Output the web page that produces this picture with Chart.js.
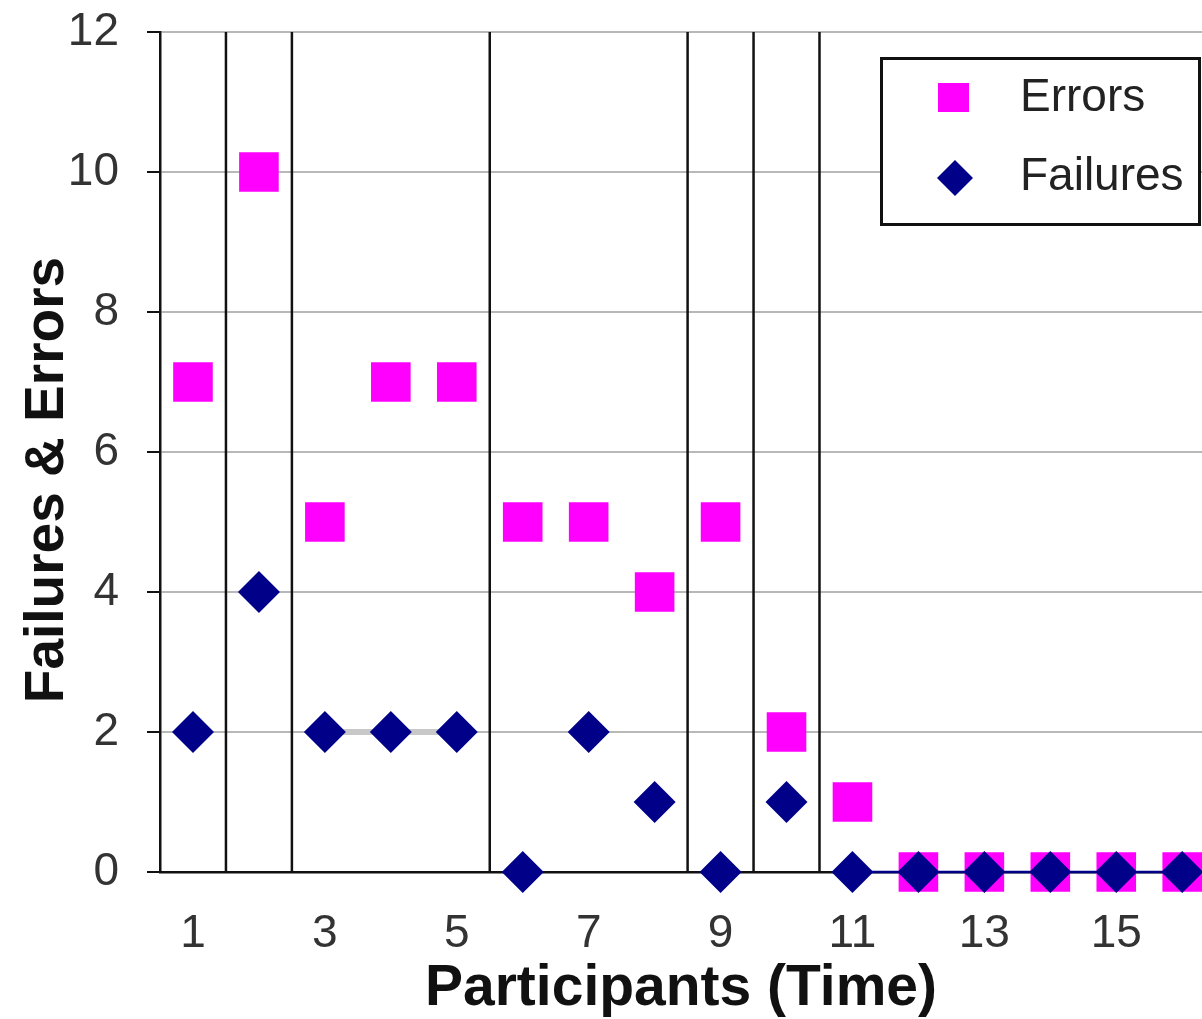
<!DOCTYPE html>
<html>
<head>
<meta charset="utf-8">
<script src="https://cdn.jsdelivr.net/npm/chart.js@4.4.0/dist/chart.umd.min.js"></script>
<style>
  html, body { margin: 0; padding: 0; background: #fff; }
  #wrap { width: 1202px; height: 1019px; }
</style>
</head>
<body>
<div id="wrap"><canvas id="chart" width="1202" height="1019"></canvas></div>
<script>
// data
const participants = [1, 2, 3, 4, 5, 6, 7, 8, 9, 10, 11, 12, 13, 14, 15, 16];
const errors   = [7, 10, 5, 7, 7, 5, 5, 4, 5, 2, 1, 0, 0, 0, 0, 0];
const failures = [2, 4, 2, 2, 2, 0, 2, 1, 0, 1, 0, 0, 0, 0, 0, 0];
const xTicks = [1, 3, 5, 7, 9, 11, 13, 15];
const yTicks = [0, 2, 4, 6, 8, 10, 12];
// vertical dividers between participant groups
const separators = [1.5, 2.5, 5.5, 8.5, 9.5, 10.5];
// failures joined by a navy line from this participant on
const failureLineFrom = 11;
// faint grey band joining failures of these participants
const greyBand = [3, 5];

const pink = '#ff00ff';
const navy = '#000088';

const toPoints = (vals) => vals.map((v, i) => ({ x: participants[i], y: v }));

const separatorPlugin = {
  id: 'separators',
  beforeDatasetsDraw(chart) {
    const ctx = chart.ctx;
    const x = chart.scales.x, y = chart.scales.y;
    ctx.save();
    ctx.strokeStyle = '#111';
    ctx.lineWidth = 2.5;
    separators.forEach(s => {
      const px = x.getPixelForValue(s);
      ctx.beginPath();
      ctx.moveTo(px, y.getPixelForValue(yTicks[yTicks.length - 1]));
      ctx.lineTo(px, y.getPixelForValue(0));
      ctx.stroke();
    });
    ctx.restore();
  }
};

const decorPlugin = {
  id: 'decor',
  afterDraw(chart) {
    const ctx = chart.ctx;
    ctx.save();
    // y axis title
    ctx.translate(48, 480);
    ctx.rotate(-Math.PI / 2);
    ctx.font = 'bold 55px "Liberation Sans"';
    ctx.fillStyle = '#111';
    ctx.textAlign = 'center';
    ctx.textBaseline = 'middle';
    ctx.fillText('Failures & Errors', 0, 0);
    ctx.restore();

    // legend box
    ctx.save();
    ctx.fillStyle = '#fff';
    ctx.fillRect(881, 58, 320, 166);
    ctx.strokeStyle = '#111';
    ctx.lineWidth = 3;
    ctx.strokeRect(881.5, 58.5, 318, 166);
    ctx.fillStyle = pink;
    ctx.fillRect(938, 83, 31, 29);
    ctx.fillStyle = navy;
    ctx.beginPath();
    ctx.moveTo(955, 160);
    ctx.lineTo(973, 178);
    ctx.lineTo(955, 196);
    ctx.lineTo(937, 178);
    ctx.closePath();
    ctx.fill();
    ctx.fillStyle = '#222';
    ctx.font = '46px "Liberation Sans"';
    ctx.textAlign = 'left';
    ctx.textBaseline = 'middle';
    ctx.fillText('Errors', 1020, 98);
    ctx.fillText('Failures', 1020, 177);
    ctx.restore();
  }
};

new Chart(document.getElementById('chart').getContext('2d'), {
  type: 'scatter',
  data: {
    datasets: [
      {
        label: 'Errors',
        data: toPoints(errors),
        pointStyle: 'rect',
        pointRadius: 28,
        pointHoverRadius: 28,
        backgroundColor: pink,
        borderWidth: 0,
        clip: false,
        order: 1
      },
      {
        label: 'Failures',
        data: toPoints(failures),
        pointStyle: 'rectRot',
        pointRadius: 21,
        pointHoverRadius: 21,
        backgroundColor: navy,
        borderWidth: 0,
        clip: false,
        order: 0
      },
      {
        label: 'FailuresLine',
        type: 'line',
        data: toPoints(failures).filter(p => p.x >= failureLineFrom),
        borderColor: navy,
        borderWidth: 2.5,
        pointRadius: 0,
        fill: false,
        clip: false,
        order: 2
      },
      {
        label: 'GreyBand',
        type: 'line',
        data: toPoints(failures).filter(p => p.x >= greyBand[0] && p.x <= greyBand[1]),
        borderColor: '#c8c8c8',
        borderWidth: 6,
        pointRadius: 0,
        fill: false,
        order: 3
      }
    ]
  },
  options: {
    responsive: false,
    devicePixelRatio: 1,
    animation: false,
    layout: { autoPadding: false, padding: { top: 32, right: 0, bottom: 0, left: 0 } },
    plugins: {
      legend: { display: false },
      tooltip: { enabled: false }
    },
    scales: {
      x: {
        type: 'linear',
        min: 0.5,
        max: 16.3,
        afterBuildTicks: (s) => { s.ticks = xTicks.map(v => ({ value: v })); },
        afterFit: (s) => { s.height = 147; },
        grid: { display: false, drawTicks: false },
        border: { color: '#111', width: 2.5 },
        ticks: {
          font: { family: 'Liberation Sans', size: 46 },
          color: '#333', padding: 35, autoSkip: false, maxRotation: 0
        },
        title: {
          display: true,
          text: 'Participants (Time)',
          font: { family: 'Liberation Sans', size: 57, weight: 'bold' },
          color: '#111',
          padding: { top: 0, bottom: -4 }
        }
      },
      y: {
        min: 0,
        max: 12,
        afterBuildTicks: (s) => { s.ticks = yTicks.map(v => ({ value: v })); },
        afterFit: (s) => { s.width = 160; s.paddingTop = 0; s.paddingBottom = 0; },
        grid: { color: '#b8b8b8', lineWidth: 2, tickColor: '#111', tickLength: 13 },
        border: { color: '#111', width: 2.5 },
        ticks: {
          font: { family: 'Liberation Sans', size: 46, lineHeight: 0.1 },
          color: '#333', padding: 28
        }
      }
    }
  },
  plugins: [separatorPlugin, decorPlugin]
});
</script>
</body>
</html>
